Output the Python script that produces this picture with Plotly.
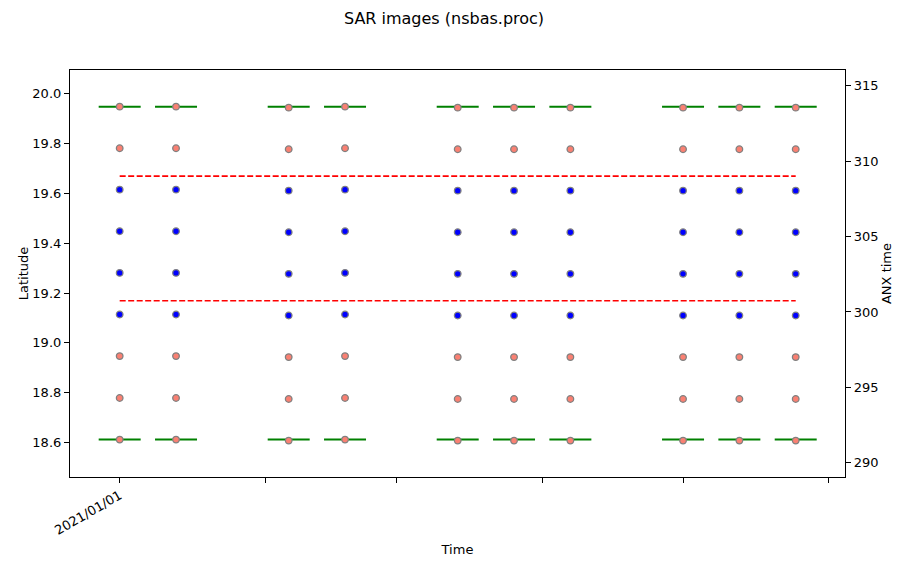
import numpy as np
import pandas as pd
import plotly.graph_objects as go

# acquisition dates (12-day repeat, some gaps)
dates = ["2021-01-01", "2021-01-13", "2021-02-06", "2021-02-18", "2021-03-14",
         "2021-03-26", "2021-04-07", "2021-05-01", "2021-05-13", "2021-05-25"]
# burst centre latitudes, top to bottom
burst_lat = [19.948, 19.781, 19.615, 19.448, 19.281, 19.114, 18.947, 18.779, 18.612]
# bursts touching the area of interest (blue)
burst_used = [False, False, True, True, True, True, False, False, False]
# small per-date latitude offset of the bursts
date_shift = [0.0, 0.0, -0.004, 0.0, -0.004, -0.004, -0.004, -0.004, -0.004, -0.004]
# area of interest limits (red dashed)
aoi_lat = [19.169, 19.669]
# frame limits (green)
frame_lat = [19.948, 18.612]

month_ticks = ["2021-01-01", "2021-02-01", "2021-03-01", "2021-04-01", "2021-05-01", "2021-06-01"]
month_text = ["2021/01/01", "", "", "", "", ""]
lat_ticks = [18.6, 18.8, 19.0, 19.2, 19.4, 19.6, 19.8, 20.0]
anx_ticks = [290, 295, 300, 305, 310, 315]

FONT = "DejaVu Sans"

# build points
xs, ys, used = [], [], []
for d, s in zip(dates, date_shift):
    for lat, u in zip(burst_lat, burst_used):
        xs.append(d)
        ys.append(lat + s)
        used.append(u)
pts = pd.DataFrame({"date": pd.to_datetime(xs), "lat": ys, "used": used})

fig = go.Figure()

# frame limits as short green bars
for fl in frame_lat:
    fig.add_trace(go.Scatter(
        x=dates, y=[fl] * len(dates), mode="markers",
        marker=dict(symbol="line-ew", size=30, line=dict(color="green", width=2)),
        showlegend=False, hoverinfo="skip"))

# aoi limits
for al in aoi_lat:
    fig.add_trace(go.Scatter(
        x=[dates[0], dates[-1]], y=[al, al], mode="lines",
        line=dict(color="red", width=1.6, dash="6px,2.5px"),
        showlegend=False, hoverinfo="skip"))

out = pts[~pts["used"]]
inn = pts[pts["used"]]
fig.add_trace(go.Scatter(
    x=out["date"], y=out["lat"], mode="markers",
    marker=dict(color="salmon", size=6.6, line=dict(color="gray", width=1.3)),
    showlegend=False))
fig.add_trace(go.Scatter(
    x=inn["date"], y=inn["lat"], mode="markers",
    marker=dict(color="blue", size=6.6, line=dict(color="gray", width=1.3)),
    showlegend=False))

# dummy trace so the ANX axis is drawn
fig.add_trace(go.Scatter(x=[dates[0]], y=[None], yaxis="y2", mode="markers",
                         showlegend=False, hoverinfo="skip"))

axis_common = dict(showgrid=False, zeroline=False, showline=True, linecolor="black",
                   linewidth=1.2, ticks="outside", ticklen=5, tickcolor="black",
                   tickfont=dict(family=FONT, size=13, color="black"))

# page is shown with an 8px body margin, margins below make up for it
fig.update_layout(
    width=910, height=569,
    margin=dict(l=62, r=73, t=62, b=100),
    plot_bgcolor="white", paper_bgcolor="white",
    font=dict(family=FONT, size=13, color="black"),
    title=dict(text="SAR images (nsbas.proc)", x=0.4826, xref="paper",
               y=1 - 10 / 569, yref="container", xanchor="center", yanchor="middle",
               font=dict(family=FONT, size=16, color="black")),
    xaxis=dict(**axis_common, mirror=True, type="date",
               range=["2020-12-21 10:00", "2021-06-04 12:00"],
               tickvals=month_ticks, ticktext=month_text, tickangle=-30,
               title=dict(text="Time", standoff=8, font=dict(family=FONT, size=13))),
    yaxis=dict(**axis_common, mirror=True, range=[18.462, 20.095],
               tickvals=lat_ticks, tickformat=".1f",
               title=dict(text="Latitude", standoff=0, font=dict(family=FONT, size=13))),
    yaxis2=dict(**axis_common, overlaying="y", side="right", range=[289.06, 316.04],
                tickvals=anx_ticks,
                title=dict(text="ANX time", standoff=0, font=dict(family=FONT, size=13))),
)

fig.write_html("out.html")
